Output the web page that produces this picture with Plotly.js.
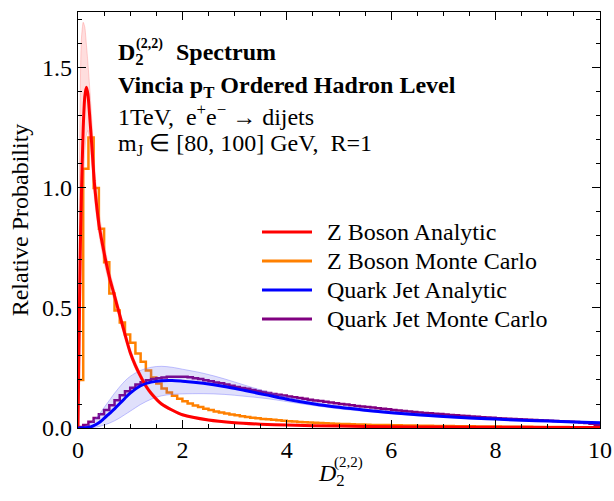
<!DOCTYPE html>
<html>
<head>
<meta charset="utf-8">
<script src="https://cdn.plot.ly/plotly-3.0.1.min.js"></script>
<style>html,body{margin:0;padding:0;background:#fff;}#chart{width:614px;height:501px;}</style>
</head>
<body>
<div id="chart"></div>
<script>
// ---- data ----
const seriesNames = ["Z Boson Analytic", "Z Boson Monte Carlo", "Quark Jet Analytic", "Quark Jet Monte Carlo"];

// Z boson analytic curve and its uncertainty band
const zX  = [0, 0.02, 0.04, 0.065, 0.1, 0.13, 0.16, 0.19, 0.23, 0.27, 0.31, 0.35, 0.4, 0.5, 0.6, 0.7, 0.8, 0.9, 1.0, 1.1, 1.2, 1.3, 1.4, 1.6, 1.8, 2.0, 2.5, 3, 3.5, 4, 5, 6, 7, 8, 9, 10];
const zY  = [0, 0.35, 0.70, 0.97, 1.25, 1.38, 1.42, 1.39, 1.28, 1.16, 1.03, 0.94, 0.85, 0.73, 0.63, 0.55, 0.47, 0.39, 0.315, 0.26, 0.215, 0.175, 0.145, 0.10, 0.075, 0.055, 0.033, 0.022, 0.016, 0.012, 0.008, 0.005, 0.004, 0.003, 0.0025, 0.002];
const zHi = [0, 0.75, 1.35, 1.62, 1.69, 1.67, 1.60, 1.52, 1.40, 1.26, 1.12, 1.00, 0.90, 0.77, 0.66, 0.575, 0.49, 0.41, 0.33, 0.275, 0.228, 0.186, 0.154, 0.107, 0.08, 0.059, 0.036, 0.024, 0.018, 0.013, 0.009, 0.006, 0.0045, 0.0035, 0.003, 0.0025];
const zLo = [0, 0.15, 0.40, 0.70, 1.00, 1.15, 1.22, 1.24, 1.18, 1.08, 0.97, 0.89, 0.81, 0.69, 0.60, 0.525, 0.45, 0.37, 0.30, 0.245, 0.203, 0.165, 0.136, 0.094, 0.07, 0.051, 0.03, 0.02, 0.014, 0.011, 0.007, 0.0045, 0.0035, 0.0027, 0.002, 0.0015];

// Quark jet analytic curve and its uncertainty band
const qX  = [0, 0.2, 0.3, 0.4, 0.5, 0.6, 0.7, 0.8, 0.9, 1.0, 1.2, 1.4, 1.6, 1.8, 2.0, 2.4, 2.8, 3.2, 3.6, 4.0, 4.5, 5, 5.5, 6, 6.5, 7, 7.5, 8, 8.5, 9, 9.5, 10];
const qY  = [0, 0.002, 0.01, 0.022, 0.04, 0.06, 0.08, 0.102, 0.124, 0.145, 0.176, 0.191, 0.197, 0.198, 0.195, 0.186, 0.173, 0.156, 0.138, 0.12, 0.101, 0.086, 0.074, 0.064, 0.055, 0.048, 0.042, 0.037, 0.032, 0.029, 0.025, 0.022];
const qHi = [0, 0.012, 0.03, 0.055, 0.085, 0.115, 0.145, 0.172, 0.196, 0.215, 0.24, 0.253, 0.257, 0.253, 0.245, 0.228, 0.205, 0.178, 0.152, 0.13, 0.108, 0.092, 0.079, 0.068, 0.059, 0.051, 0.045, 0.04, 0.035, 0.031, 0.027, 0.024];
const qLo = [0, 0, 0.002, 0.006, 0.012, 0.02, 0.03, 0.042, 0.056, 0.07, 0.098, 0.12, 0.134, 0.14, 0.142, 0.143, 0.14, 0.132, 0.123, 0.11, 0.094, 0.08, 0.069, 0.06, 0.051, 0.045, 0.039, 0.034, 0.03, 0.027, 0.023, 0.02];

// Monte Carlo histograms, bins of width 0.1 from 0 to 10
const binWidth = 0.1;
const zMC = [
  0.20, 1.08, 1.21, 1.00, 0.83, 0.69, 0.56, 0.49, 0.44, 0.39,
  0.355, 0.31, 0.276, 0.24, 0.21, 0.185, 0.165, 0.148, 0.134, 0.122,
  0.111, 0.102, 0.094, 0.087, 0.080, 0.075, 0.069, 0.065, 0.060, 0.056,
  0.053, 0.049, 0.046, 0.043, 0.041, 0.038, 0.036, 0.034, 0.032, 0.030,
  0.028, 0.027, 0.025, 0.024, 0.023, 0.022, 0.021, 0.020, 0.019, 0.018,
  0.017, 0.017, 0.016, 0.015, 0.015, 0.014, 0.013, 0.013, 0.012, 0.012,
  0.011, 0.011, 0.010, 0.010, 0.010, 0.009, 0.009, 0.009, 0.008, 0.008,
  0.008, 0.008, 0.007, 0.007, 0.007, 0.007, 0.006, 0.006, 0.006, 0.006,
  0.006, 0.005, 0.005, 0.005, 0.005, 0.005, 0.005, 0.004, 0.004, 0.004,
  0.004, 0.004, 0.004, 0.004, 0.003, 0.003, 0.003, 0.003, 0.003, 0.003];
const qMC = [
  0.004, 0.012, 0.026, 0.042, 0.057, 0.075, 0.095, 0.116, 0.136, 0.153,
  0.168, 0.181, 0.191, 0.199, 0.204, 0.207, 0.210, 0.213, 0.214, 0.214,
  0.213, 0.211, 0.207, 0.204, 0.199, 0.195, 0.190, 0.186, 0.181, 0.176,
  0.171, 0.167, 0.163, 0.158, 0.154, 0.150, 0.146, 0.142, 0.138, 0.135,
  0.131, 0.128, 0.125, 0.122, 0.118, 0.115, 0.112, 0.109, 0.106, 0.103,
  0.100, 0.098, 0.095, 0.092, 0.090, 0.087, 0.085, 0.082, 0.080, 0.078,
  0.075, 0.073, 0.071, 0.069, 0.067, 0.065, 0.063, 0.061, 0.059, 0.058,
  0.056, 0.054, 0.053, 0.051, 0.050, 0.048, 0.047, 0.045, 0.044, 0.043,
  0.041, 0.040, 0.039, 0.038, 0.036, 0.035, 0.034, 0.033, 0.032, 0.031,
  0.030, 0.029, 0.028, 0.027, 0.026, 0.025, 0.023, 0.021, 0.018, 0.014];

const xTicks = [0, 2, 4, 6, 8, 10];
const yTicks = [0.0, 0.5, 1.0, 1.5];

// ---- build ----
function histXY(vals) {
  const xs = [], ys = [];
  for (let i = 0; i <= vals.length; i++) {
    xs.push(+(i * binWidth).toFixed(4));
    ys.push(vals[Math.min(i, vals.length - 1)]);
  }
  return {xs, ys};
}
const zH = histXY(zMC), qH = histXY(qMC);

const FONT = "Liberation Serif, Times New Roman, serif";
const RED = "#ff0000", ORANGE = "#ff8000", BLUE = "#0000ff", PURPLE = "#800080";
const seriesColors = [RED, ORANGE, BLUE, PURPLE];

const traces = [
  {x: zH.xs, y: zH.ys, mode: "lines", line: {color: ORANGE, width: 2.5, shape: "hv"}, name: seriesNames[1]},
  {x: qH.xs, y: qH.ys, mode: "lines", line: {color: PURPLE, width: 2.5, shape: "hv"}, name: seriesNames[3]},
  {x: zX, y: zLo, mode: "lines", line: {color: "rgba(255,120,120,0.35)", width: 1, shape: "spline", smoothing: 0.6}, hoverinfo: "skip"},
  {x: zX, y: zHi, mode: "lines", fill: "tonexty", fillcolor: "rgba(255,0,0,0.13)", line: {color: "rgba(255,120,120,0.35)", width: 1, shape: "spline", smoothing: 0.6}, hoverinfo: "skip"},
  {x: qX, y: qLo, mode: "lines", line: {color: "rgba(110,110,255,0.4)", width: 1, shape: "spline"}, hoverinfo: "skip"},
  {x: qX, y: qHi, mode: "lines", fill: "tonexty", fillcolor: "rgba(70,70,230,0.17)", line: {color: "rgba(110,110,255,0.4)", width: 1, shape: "spline"}, hoverinfo: "skip"},
  {x: zX, y: zY, mode: "lines", line: {color: RED, width: 3, shape: "spline", smoothing: 0.6}, name: seriesNames[0]},
  {x: qX, y: qY, mode: "lines", line: {color: BLUE, width: 3, shape: "spline"}, name: seriesNames[2]}
];

const plotLeft = 78, plotRight = 600, plotTop = 12, plotBottom = 428;
const W = 614, H = 501;
const pw = plotRight - plotLeft, ph = plotBottom - plotTop;
const px2x = p => (p - plotLeft) / pw;
const py2y = p => (plotBottom - p) / ph;

function ann(text, xpx, ypx, size, opts) {
  return Object.assign({
    xref: "paper", yref: "paper", x: px2x(xpx), y: py2y(ypx), xanchor: "left", yanchor: "middle",
    showarrow: false, align: "left", text: text, borderpad: 0,
    font: {family: FONT, size: size, color: "#000"}
  }, opts || {});
}

const annotations = [
  // title block
  ann("<b>D<sub>2</sub></b>", 117, 38, 24, {yanchor: "top"}),
  ann("<b>(2,2)</b>", 135, 44, 14),
  ann("<b>Spectrum</b>", 175, 38, 24, {yanchor: "top"}),
  ann("<b>Vincia p<sub>T</sub> Ordered Hadron Level</b>", 117, 87, 24),
  ann("1TeV,  e<sup>+</sup>e<sup>−</sup> → dijets", 117, 115, 24),
  ann("m<sub>J</sub> ∈ [80, 100] GeV,  R=1", 117, 145, 24),
  // x-axis title
  ann("<i>D</i><sub>2</sub>", 317, 459, 24, {yanchor: "top"}),
  ann("(2,2)", 333, 462, 15)
];

// legend (line samples + labels)
const legendRows = [232, 261, 290, 319];
const shapes = [];
seriesNames.forEach((nm, i) => {
  shapes.push({type: "line", xref: "paper", yref: "paper",
    x0: px2x(262), x1: px2x(312), y0: py2y(legendRows[i]), y1: py2y(legendRows[i]),
    line: {color: seriesColors[i], width: 3}});
  annotations.push(ann(nm, 326, legendRows[i], 24));
});

const layout = {
  width: W, height: H,
  margin: {l: plotLeft, r: W - plotRight, t: plotTop, b: H - plotBottom},
  paper_bgcolor: "#fff", plot_bgcolor: "#fff",
  showlegend: false,
  xaxis: {
    range: [0, 10], tickvals: xTicks, ticktext: xTicks.map(String),
    ticks: "inside", ticklen: 8, tickwidth: 1, tickcolor: "#000",
    showline: true, linecolor: "#000", linewidth: 1.2, mirror: "allticks",
    showgrid: false, zeroline: false,
    minor: {dtick: 0.5, tick0: 0, ticks: "inside", ticklen: 4, tickcolor: "#000", showgrid: false},
    tickfont: {family: FONT, size: 24, color: "#000"}
  },
  yaxis: {
    range: [0, 1.733], tickvals: yTicks, ticktext: yTicks.map(v => v.toFixed(1)),
    ticks: "inside", ticklen: 8, tickwidth: 1, tickcolor: "#000",
    showline: true, linecolor: "#000", linewidth: 1.2, mirror: "allticks",
    showgrid: false, zeroline: false,
    minor: {dtick: 0.1, tick0: 0, ticks: "inside", ticklen: 4, tickcolor: "#000", showgrid: false},
    tickfont: {family: FONT, size: 24, color: "#000"},
    title: {text: "Relative Probability", font: {family: FONT, size: 24, color: "#000"}, standoff: 6}
  },
  shapes: shapes,
  annotations: annotations
};

Plotly.newPlot("chart", traces, layout, {staticPlot: true, displayModeBar: false});
</script>
</body>
</html>
